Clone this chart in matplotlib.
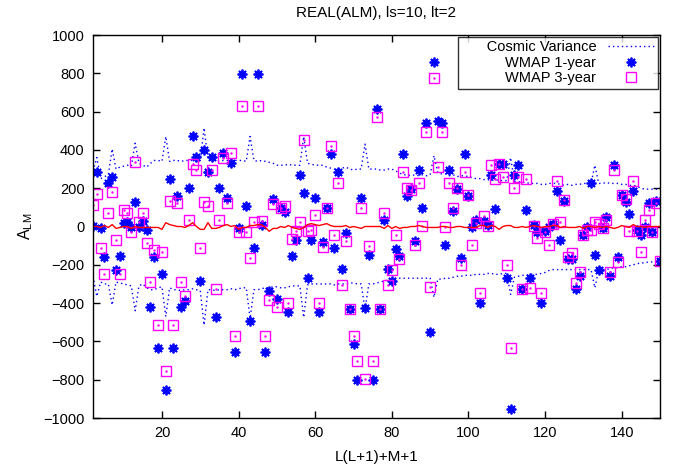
import numpy as np
import matplotlib
matplotlib.use('Agg')
import matplotlib.pyplot as plt

plt.rcParams['font.family'] = ['Liberation Sans', 'DejaVu Sans']
plt.rcParams['mathtext.fontset'] = 'custom'
plt.rcParams['mathtext.rm'] = 'Liberation Sans'
plt.rcParams['mathtext.it'] = 'Liberation Sans'

# index L(L+1)+M+1, from 2 to 150
idx = np.arange(2, 151)

# cosmic variance envelope (upper / lower)
cv_upper = [290, 360,
            250, 260, 270, 405,
            300, 310, 315, 320, 315, 435,
            330, 320, 310, 330, 345, 345, 340, 470,
            340, 345, 345, 340, 345, 345, 345, 340, 345, 515,
            350, 345, 345, 340, 345, 345, 340, 345, 345, 345, 340, 470,
            345, 340, 345, 340, 335, 330, 320, 320, 320, 325, 320, 320, 320, 470,
            330, 325, 320, 320, 320, 310, 305, 300, 300, 305, 310, 300, 295, 300, 300, 430,
            300, 300, 300, 295, 295, 300, 300, 290, 280, 270, 270, 265, 270, 265, 270, 265, 270, 370,
            280, 275, 275, 265, 270, 260, 265, 265, 260, 255, 250, 250, 245, 245, 240, 245, 240, 240, 240, 360,
            235, 235, 230, 230, 225, 225, 225, 220, 220, 225, 225, 225, 220, 215, 220, 215, 220, 220, 225, 225, 225, 320,
            225, 225, 230, 225, 225, 225, 220, 220, 215, 215, 210, 200, 195, 195, 195, 195, 195]
cv_lower = [-260, -365,
            -290, -300, -300, -410,
            -290, -295, -300, -305, -310, -440,
            -310, -300, -320, -330, -330, -320, -315, -470,
            -320, -330, -330, -335, -330, -330, -325, -330, -335, -515,
            -330, -330, -335, -330, -330, -330, -325, -330, -325, -320, -320, -480,
            -330, -330, -325, -320, -320, -315, -315, -320, -320, -315, -310, -310, -310, -475,
            -305, -300, -300, -300, -300, -300, -300, -305, -300, -300, -300, -295, -295, -300, -300, -435,
            -300, -300, -295, -290, -285, -280, -275, -270, -270, -270, -270, -270, -270, -270, -270, -270, -268, -370,
            -275, -275, -270, -270, -265, -260, -260, -255, -255, -255, -250, -250, -250, -245, -245, -250, -250, -245, -245, -355,
            -265, -260, -255, -255, -250, -250, -250, -245, -240, -230, -225, -225, -225, -225, -225, -225, -225, -225, -225, -225, -225, -320,
            -225, -225, -225, -220, -215, -215, -210, -210, -205, -200, -195, -190, -190, -185, -185, -185, -180]

wmap1 = [5, 283, -9, -157, 228, 258, -227, -156, 19, 24, -2, 129, -2, 28, -17, -420, -161, -637, -250,
         -853, 246, -637, 158, -420, -389, 199, 470, 364, -284, 397, 284, 364, -470, 199, 383, 147, 333, -657,
         -10, 796, 109, -496, -111, 796, 7, -657, -337, 146, -376, 94, 75, -449, -154, -71, 271, 173,
         -269, -71, 149, -449, -80, 94, 378, -114, 283, -224, -36, -432, -612, -801, 147, -427, -151, -801, 612,
         -432, 36, -224, -284, -116, -154, 380, 161, 196, -78, 293, 94, 538, -553, 860, 550, 538, -99, 293,
         80, 196, -163, 380, 161, -3, 36, -397, 28, 10, 267, 92, 326, 324, -267, -952, 267, 323, -324,
         88, -267, 10, -29, -397, -25, -3, 14, 184, -68, 134, -168, -172, -326, -258, -45, -3, 227,
         -149, -227, -10, 49, -258, 323, -161, 167, 130, 66, 184, -16, -45, -3, 123, -29, 134, -180]

wmap3 = [114, 168, -114, -248, 68, 180, -68, -248, 87, 71, -29, 336, 26, 71, -88, -288, -125, -513, -135,
         -755, 134, -515, 121, -288, -363, 36, 326, 295, -113, 127, 109, 295, -328, 36, 357, 121, 383, -574,
         -29, 630, -29, -163, 26, 630, 31, -574, -385, 120, -421, 94, 106, -401, -64, -21, 24, 453,
         -21, -19, 61, -402, -106, 94, 420, -45, 227, -307, -75, -432, -574, -701, 97, -794, -101, -701, 571,
         -432, 71, -307, -229, -45, -168, 286, 201, 193, -99, 227, 5, 496, -314, 775, 312, 496, -5, 227,
         94, 203, -203, 286, 166, -94, 19, -345, 57, 5, 321, 246, 326, 258, -203, -635, 203, 257, -324,
         250, -321, 5, -59, -345, -29, -94, 14, 236, 23, 137, -160, -139, -297, -236, -42, -16, -16,
         23, 14, -10, 33, -236, 297, -186, 167, 142, -21, 236, -21, -134, 33, 87, -29, 121, -180]

# red curve near zero
mean_curve = [0, 0, -5, 5, -5, 10, -10, -5, 0, 0, -10, 0, -5, -5, -5, -5, -5, -5,
              -15, 20, 10, 5, 0, 0, -5, 5, 20, 0, -15, -15, 20, -10, -10, -5, 5, 10, 0,
              5, -15, -5, -5, 5, 5, 10, 10, -5, -25, -10, -10, 0, -5, 5, -5, -10, -15, -5,
              10, 15, 10, 5, 10, 15, 5, 0, 0, 0, 5, -5, 0, -5, -10, 0, 0, 0, 0,
              0, -10, 5, -10, 0, -10, -5, -5, 0, 0, 5, 0, -5, -5, -5, -5, 0, 0, -5,
              -5, 0, 0, -5, -5, -5, -5, 5, 5, -5, 5, 0, -15, 0, 5, 5, -5, -5, 0,
              -5, 0, 5, 0, -5, 0, 0, 5, 5, -5, 0, -5, -5, -5, 0, -10, 0, 0,
              -5, 0, -5, 0, -5, -10, -5, 5, 0, -5, 10, 0, 0, -5, 0, 0, 0, 0]

fig = plt.figure(figsize=(6.75, 4.68), dpi=100)
ax = fig.add_axes([93/675, 1-418/468, (660-93)/675, (418-35)/468])

blue = (0, 0, 1)
mag = (1, 0, 1)

ax.plot(idx, cv_upper, color=blue, lw=1, ls=(0, (1, 2.2)), label='      Cosmic Variance')
ax.plot(idx, cv_lower, color=blue, lw=1, ls=(0, (1, 2.2)))
ax.plot(idx, wmap1, ls='none', marker=(8, 2, 0), ms=7, mew=1.3, color=blue, label='WMAP 1-year')
ax.plot(idx, wmap3, ls='none', marker='s', ms=6.5, mew=1, mfc='none', mec=mag, label='WMAP 3-year')
ax.plot(idx, wmap3, ls='none', marker='.', ms=1.5, color=mag)
ax.plot(idx, mean_curve, color='red', lw=1)

ax.set_xlim(2, 150)
ax.set_ylim(-1000, 1000)
ax.set_xticks([20, 40, 60, 80, 100, 120, 140])
ax.set_yticks(np.arange(-1000, 1001, 200))
ax.tick_params(direction='in', top=True, right=True, length=5, width=1, labelsize=10.5, pad=6)
for s in ax.spines.values():
    s.set_linewidth(1)

ax.set_title('REAL(ALM), ls=10, lt=2', fontsize=11, pad=13)
ax.set_xlabel('L(L+1)+M+1', fontsize=11, labelpad=7)
ax.set_ylabel(r'A$_{\mathregular{LM}}$', fontsize=11.5, labelpad=6)

leg = ax.legend(loc='upper right', markerfirst=False, fontsize=10.5, frameon=True,
                fancybox=False, borderaxespad=0.15, handlelength=3.2, labelspacing=0.1,
                borderpad=0.22, handletextpad=0.8, numpoints=1)
leg.get_frame().set_edgecolor('black')
leg.get_frame().set_linewidth(1)

fig.savefig('out.png', dpi=100)
